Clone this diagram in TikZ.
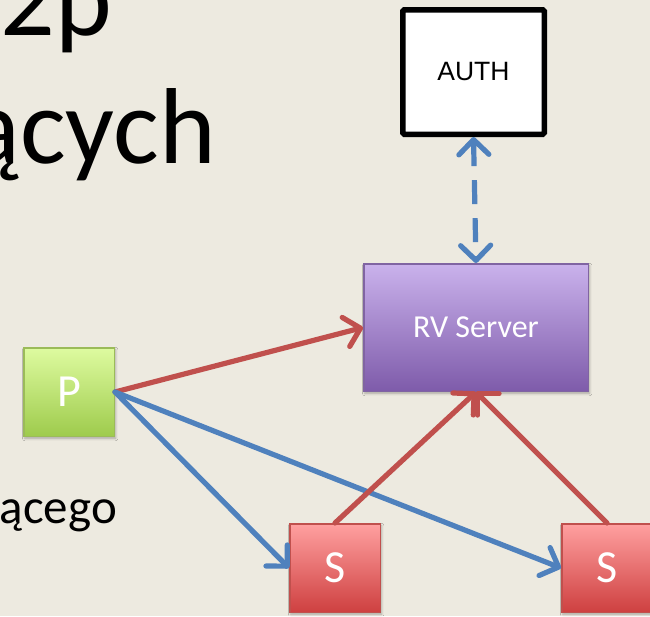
\documentclass[tikz,border=0pt]{standalone}
\usepackage{fontspec}
\setmainfont{Carlito}
\newfontfamily\arialfont{Liberation Sans}
\usetikzlibrary{arrows.meta,shadows.blur}

\definecolor{paper}{RGB}{237,234,224}
\definecolor{linkred}{RGB}{192,80,77}
\definecolor{linkblue}{RGB}{79,129,189}
\definecolor{greenedge}{RGB}{155,187,89}
\definecolor{greentop}{RGB}{222,251,160}
\definecolor{greenbot}{RGB}{158,203,76}
\definecolor{rededge}{RGB}{192,80,77}
\definecolor{redtop}{RGB}{255,160,160}
\definecolor{redbot}{RGB}{206,64,64}
\definecolor{purpleedge}{RGB}{128,100,162}
\definecolor{purpletop}{RGB}{202,178,236}
\definecolor{purplemid}{RGB}{176,146,214}
\definecolor{purplebot}{RGB}{126,91,170}

\begin{document}
\begin{tikzpicture}[x=1pt,y=-1pt,
  softshadow/.style={blur shadow={shadow xshift=1.2pt,shadow yshift=-2pt,
      shadow blur radius=2.5pt,shadow opacity=30}},
  box/.style={draw,line width=1.5pt,inner sep=0pt,text=white,softshadow,
      minimum width=90.5pt,minimum height=88.5pt,
      font=\fontsize{46}{46}\selectfont},
  peer/.style={box,draw=greenedge,top color=greentop,bottom color=greenbot},
  seeder/.style={box,draw=rededge,top color=redtop,bottom color=redbot},
  server/.style={draw=purpleedge,line width=1.5pt,inner sep=0pt,text=white,
      softshadow,minimum width=224.5pt,minimum height=127.5pt,
      top color=purpletop,middle color=purplemid,bottom color=purplebot,
      font=\fontsize{32}{32}\selectfont},
  authbox/.style={draw=black,line width=5.5pt,fill=white,rounded corners=1.5pt,
      inner sep=0pt,minimum width=141.5pt,minimum height=124.5pt,
      font=\arialfont\fontsize{26.5}{26.5}\selectfont},
  barb/.tip={Straight Barb[length=15pt,width=30pt,round]},
  link/.style={line width=5.2pt,line cap=round,-barb},
  redlink/.style={link,draw=linkred},
  bluelink/.style={link,draw=linkblue},
  authlink/.style={line width=5.2pt,draw=linkblue,barb-barb,
      dash pattern=on 24pt off 14pt},
  bigtext/.style={anchor=base east,inner sep=0pt,text=black},
]
\useasboundingbox (0,0) rectangle (650,616);
\fill[paper] (0,0) rectangle (650,616);
\clip (0,0) rectangle (650,616);

% slide text running off the left edge
\node[bigtext,font=\fontsize{108}{108}\selectfont] (line1) at (112,35) {2p};
\node[bigtext,font=\fontsize{108}{108}\selectfont] (line2) at (216,163) {ących};
\node[bigtext,font=\fontsize{49}{49}\selectfont] (line3) at (117,523) {ącego};

% boxes
\node[authbox] (auth) at (473.5,72) {AUTH};
\node[server] (rv) at (476,327.5) {RV Server};
\node[peer] (p) at (69,392) {P};
\node[seeder] (s1) at (335,568) {S};
\node[seeder] (s2) at (607,568) {S};

% connectors
\draw[redlink] (p.east) -- (rv.west);
\draw[bluelink] (p.east) -- (s1.west);
\draw[bluelink] (p.east) -- (s2.west);
\draw[redlink] (s1.north) -- (rv.south);
\draw[redlink] (s2.north) -- (rv.south);
\draw[authlink] (auth.south) -- (rv.north);
\end{tikzpicture}
\end{document}
